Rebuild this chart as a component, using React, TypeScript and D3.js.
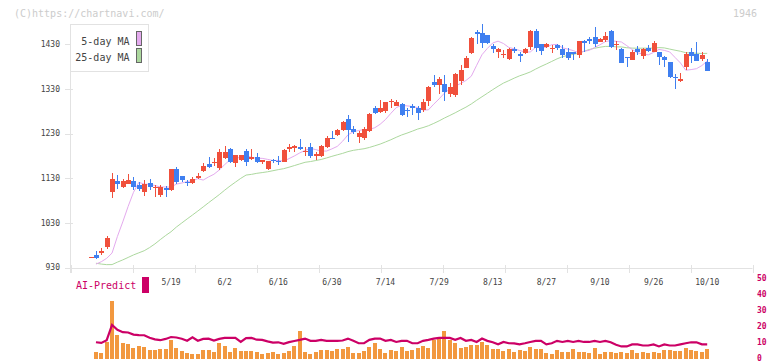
import React, { useEffect, useRef } from 'react';
import * as d3 from 'd3';

// sessions before the first candle (only feed the moving averages)
const closesBefore = [1000, 998, 995, 990, 993, 988, 985, 992, 989, 940, 905, 870, 880, 895, 888, 895, 900, 898, 905, 904, 925, 930, 938, 942];

const opens = [955, 958, 963, 977, 1100, 1124, 1111, 1118, 1124, 1115,
  1100, 1120, 1108, 1093, 1109, 1104, 1151, 1135, 1123, 1120,
  1130, 1147, 1163, 1165, 1154, 1175, 1196, 1164, 1171, 1191,
  1173, 1177, 1166, 1150, 1171, 1170, 1167, 1195, 1199, 1200,
  1188, 1200, 1179, 1179, 1200, 1221, 1227, 1238, 1263, 1240,
  1223, 1220, 1236, 1287, 1279, 1281, 1302, 1293, 1297, 1283,
  1292, 1287, 1283, 1303, 1346, 1339, 1341, 1318, 1317, 1349,
  1378, 1410, 1458, 1455, 1450, 1427, 1412, 1407, 1397, 1419,
  1408, 1410, 1425, 1460, 1432, 1425, 1420, 1428, 1420, 1414,
  1412, 1406, 1437, 1443, 1447, 1436, 1440, 1460, 1428, 1420,
  1401, 1395, 1419, 1404, 1421, 1414, 1413, 1402, 1390, 1357,
  1348, 1380, 1412, 1408, 1397, 1391];

const highs = [955, 967, 973, 1001, 1143, 1138, 1128, 1140, 1133, 1123,
  1126, 1128, 1115, 1115, 1113, 1152, 1155, 1136, 1126, 1134,
  1141, 1165, 1177, 1175, 1196, 1203, 1197, 1183, 1183, 1195,
  1196, 1186, 1172, 1170, 1173, 1180, 1196, 1207, 1205, 1218,
  1200, 1209, 1189, 1205, 1224, 1235, 1240, 1258, 1272, 1247,
  1236, 1244, 1276, 1292, 1305, 1302, 1307, 1305, 1298, 1288,
  1297, 1292, 1307, 1336, 1361, 1356, 1361, 1343, 1366, 1383,
  1405, 1447, 1462, 1476, 1452, 1432, 1423, 1417, 1423, 1425,
  1412, 1421, 1462, 1464, 1432, 1434, 1429, 1432, 1429, 1421,
  1414, 1438, 1440, 1447, 1468, 1444, 1458, 1462, 1437, 1421,
  1401, 1417, 1426, 1421, 1429, 1437, 1414, 1403, 1391, 1363,
  1365, 1412, 1423, 1436, 1412, 1397];

const lows = [955, 949, 958, 972, 1087, 1107, 1109, 1117, 1105, 1102,
  1091, 1104, 1089, 1089, 1089, 1102, 1117, 1121, 1114, 1117,
  1128, 1144, 1154, 1158, 1149, 1174, 1165, 1155, 1169, 1158,
  1172, 1164, 1163, 1148, 1165, 1160, 1167, 1190, 1188, 1194,
  1179, 1175, 1171, 1177, 1198, 1218, 1226, 1236, 1212, 1229,
  1210, 1216, 1234, 1274, 1277, 1277, 1288, 1291, 1270, 1267,
  1273, 1261, 1279, 1292, 1334, 1319, 1304, 1312, 1312, 1339,
  1377, 1408, 1432, 1423, 1430, 1410, 1400, 1399, 1395, 1410,
  1390, 1408, 1418, 1414, 1406, 1421, 1410, 1417, 1399, 1395,
  1395, 1399, 1414, 1432, 1425, 1435, 1436, 1423, 1417, 1388,
  1380, 1395, 1406, 1397, 1414, 1413, 1384, 1380, 1355, 1330,
  1346, 1373, 1388, 1392, 1393, 1370];

const closes = [955, 952, 968, 997, 1128, 1118, 1125, 1126, 1110, 1106,
  1117, 1111, 1110, 1110, 1104, 1151, 1123, 1126, 1119, 1128,
  1135, 1158, 1156, 1167, 1188, 1188, 1167, 1182, 1182, 1167,
  1177, 1166, 1171, 1169, 1168, 1169, 1194, 1201, 1203, 1196,
  1192, 1180, 1185, 1203, 1220, 1220, 1238, 1256, 1238, 1234,
  1231, 1240, 1274, 1277, 1287, 1300, 1304, 1300, 1271, 1280,
  1287, 1277, 1302, 1335, 1339, 1352, 1323, 1334, 1364, 1373,
  1400, 1445, 1453, 1434, 1434, 1420, 1419, 1409, 1419, 1415,
  1403, 1419, 1460, 1421, 1415, 1432, 1422, 1422, 1406, 1399,
  1408, 1437, 1434, 1437, 1430, 1443, 1449, 1425, 1430, 1389,
  1400, 1412, 1412, 1420, 1416, 1434, 1401, 1395, 1358, 1355,
  1352, 1408, 1405, 1393, 1406, 1371];

const volumes = [null, 4.2, 3.6, 10.4, 36, 14.8, 9.8, 9.2, 6.7, 7.9,
  7.3, 5.4, 5.4, 6.0, 6.0, 11.7, 6.7, 4.8, 3.6, 2.9,
  2.9, 5.4, 5.4, 4.2, 9.8, 7.9, 4.2, 6.7, 4.8, 4.8,
  4.8, 4.2, 2.9, 3.6, 4.2, 2.9, 3.6, 4.8, 7.9, 17.3,
  4.2, 2.9, 4.2, 5.4, 5.4, 4.8, 6.0, 6.0, 7.3, 3.6,
  3.6, 4.8, 7.3, 9.8, 6.0, 3.6, 5.4, 4.8, 7.3, 4.8,
  5.4, 6.7, 7.9, 6.7, 11.7, 13.5, 17.3, 11.7, 9.8, 6.7,
  7.3, 8.6, 8.6, 10.4, 8.6, 6.0, 6.0, 4.8, 6.0, 4.2,
  5.4, 4.8, 7.3, 6.0, 6.0, 3.6, 2.9, 5.4, 4.2, 4.2,
  6.0, 4.2, 4.2, 3.6, 6.7, 2.9, 4.2, 4.2, 3.6, 4.2,
  3.6, 5.4, 3.6, 4.2, 3.6, 4.2, 3.6, 5.4, 5.4, 4.8,
  4.8, 6.7, 5.4, 4.8, 4.2, 6.0];

const aiPredict = [null, 10.2, 9.8, 11.5, 21, 18, 16.5, 16.3, 15, 14.7,
  14.6, 13, 12, 11.5, 12.3, 13.5, 13.2, 12.4, 11.2, 13.3,
  11.2, 12.3, 12.5, 11.3, 12.3, 12.9, 12.9, 12.9, 10.4, 12.8,
  12.9, 11.8, 11.7, 10.8, 10, 10.2, 9.2, 10.3, 11, 11.7,
  12.5, 11.1, 11.1, 11.7, 11.1, 11.1, 11.1, 11.3, 12.5, 11.1,
  9.6, 9.6, 11.7, 12.5, 12.5, 11.1, 11.7, 10.4, 11.1, 11.1,
  9.6, 9.6, 11.1, 11.7, 12.5, 13, 12.9, 12.9, 11.7, 12.9,
  11.1, 11.7, 10.4, 12.5, 11.1, 10.2, 8.9, 10.4, 9.6, 9.5,
  8.9, 9.6, 10.4, 11.1, 11.1, 8.9, 9.6, 11.1, 10.4, 11.1,
  10.4, 11.1, 10.4, 10.4, 11.1, 10.4, 11.1, 10.2, 8.6, 7.6,
  7.6, 8.9, 8.9, 8.2, 8.2, 8.9, 7.6, 8.9, 8.2, 8.2,
  8.9, 9.6, 10.2, 10.2, 8.9, 8.9];

const dateLabels = ['5/19', '6/2', '6/16', '6/30', '7/14', '7/29', '8/13', '8/27', '9/10', '9/26', '10/10'];
const firstLabelIndex = 15;
const priceTicks = [930, 1030, 1130, 1230, 1330, 1430];
const volumeTicks = [0, 10, 20, 30, 40, 50];

const UP = '#f0503c';
const DOWN = '#3f7ff0';
const MA5 = '#e4aaee';
const MA25 = '#acd89e';
const AI = '#cc0066';
const font = '"DejaVu Sans Mono", monospace';

// chartnavi plots the average of the n sessions before each day
const movingAvg = (n: number) => {
  const all = [...closesBefore, ...closes];
  return closes.map((_, i) => {
    if (i === 0) return null;
    const end = closesBefore.length + i;
    return d3.mean(all.slice(end - n, end)) as number;
  });
};

const App = () => {
  const svgRef = useRef<SVGSVGElement>(null);

  useEffect(() => {
    const svg = d3.select(svgRef.current);
    svg.selectAll('*').remove();

    const x = d3.scaleLinear().domain([0, closes.length - 1]).range([90.6, 707.2]);
    const y = d3.scaleLinear().domain([930, 1430]).range([267.7, 44.4]);
    const yv = d3.scaleLinear().domain([0, 50]).range([358.6, 278.6]);
    const grid = d3.scaleLinear().domain([0, 11]).range([70.5, 752.5]);
    const px = (i: number) => Math.round(x(i));

    // header
    svg.append('text').attr('x', 14).attr('y', 13).attr('dominant-baseline', 'central')
      .attr('font-family', font).attr('font-size', 10).attr('fill', '#cccccc')
      .text('(C)https://chartnavi.com/');
    svg.append('text').attr('x', 757).attr('y', 13).attr('dominant-baseline', 'central')
      .attr('text-anchor', 'end').attr('font-family', font).attr('font-size', 10).attr('fill', '#cccccc')
      .text('1946');

    // axes
    svg.append('line').attr('x1', 70.5).attr('x2', 70.5).attr('y1', 24).attr('y2', 273)
      .attr('stroke', '#e2e2e2');
    svg.append('line').attr('x1', 70.5).attr('x2', 752.5).attr('y1', 268.5).attr('y2', 268.5)
      .attr('stroke', '#e2e2e2');
    svg.append('g').selectAll('line').data(d3.range(12)).enter().append('line')
      .attr('x1', d => Math.round(grid(d)) + 0.5).attr('x2', d => Math.round(grid(d)) + 0.5)
      .attr('y1', 265).attr('y2', 273).attr('stroke', '#e2e2e2');

    const yAxis = svg.append('g');
    yAxis.selectAll('line').data(priceTicks).enter().append('line')
      .attr('x1', 65).attr('x2', 73)
      .attr('y1', d => Math.round(y(d)) + 0.5).attr('y2', d => Math.round(y(d)) + 0.5)
      .attr('stroke', '#e2e2e2');
    yAxis.selectAll('text').data(priceTicks).enter().append('text')
      .attr('x', 60).attr('y', d => y(d)).attr('text-anchor', 'end').attr('dominant-baseline', 'central')
      .attr('font-family', font).attr('font-size', 8).attr('fill', '#444').text(d => d);

    svg.append('g').selectAll('text').data(dateLabels).enter().append('text')
      .attr('x', (_, k) => x(firstLabelIndex + k * 10)).attr('y', 282.5)
      .attr('text-anchor', 'middle').attr('dominant-baseline', 'central')
      .attr('font-family', font).attr('font-size', 8).attr('fill', '#444').text(d => d);

    // moving averages
    const maLine = d3.line<number | null>()
      .defined(d => d != null)
      .x((_, i) => x(i))
      .y(d => y(d as number));
    svg.append('path').datum(movingAvg(25)).attr('d', maLine)
      .attr('fill', 'none').attr('stroke', MA25).attr('stroke-width', 1);
    svg.append('path').datum(movingAvg(5)).attr('d', maLine)
      .attr('fill', 'none').attr('stroke', MA5).attr('stroke-width', 1);

    // candles
    const candles = svg.append('g').attr('shape-rendering', 'crispEdges');
    closes.forEach((c, i) => {
      const o = opens[i];
      const color = c >= o ? UP : DOWN;
      candles.append('line')
        .attr('x1', px(i) + 0.5).attr('x2', px(i) + 0.5)
        .attr('y1', y(highs[i])).attr('y2', y(lows[i]))
        .attr('stroke', color).attr('stroke-width', 1);
      const top = y(Math.max(o, c));
      candles.append('rect')
        .attr('x', px(i) - 2).attr('width', 5)
        .attr('y', top).attr('height', Math.max(1, y(Math.min(o, c)) - top))
        .attr('fill', color);
    });

    // legend
    svg.append('rect').attr('x', 70.5).attr('y', 24.5).attr('width', 78).attr('height', 47)
      .attr('fill', '#fff').attr('stroke', '#e2e2e2');
    [['5-day MA', MA5, 41.7, 31.5], ['25-day MA', MA25, 57, 48.5]].forEach(([label, col, ty, ry]) => {
      svg.append('text').attr('x', 129.5).attr('y', ty as number).attr('text-anchor', 'end')
        .attr('dominant-baseline', 'central').attr('font-family', font).attr('font-size', 10)
        .attr('fill', '#444').text(label as string);
      svg.append('rect').attr('x', 136.5).attr('y', ry as number).attr('width', 5).attr('height', 14)
        .attr('fill', col as string).attr('stroke', '#666');
    });

    // volume + AI predict
    svg.append('text').attr('x', 76).attr('y', 285.5).attr('dominant-baseline', 'central')
      .attr('font-family', font).attr('font-size', 10).attr('fill', AI).text('AI-Predict');
    svg.append('rect').attr('x', 142).attr('y', 277).attr('width', 7).attr('height', 16).attr('fill', AI);

    svg.append('g').attr('shape-rendering', 'crispEdges').selectAll('rect')
      .data(volumes.map((v, i) => ({ v, i })).filter(d => d.v != null))
      .enter().append('rect')
      .attr('x', d => px(d.i) - 2).attr('width', 4)
      .attr('y', d => yv(d.v as number)).attr('height', d => yv(0) - yv(d.v as number))
      .attr('fill', '#f2983f');

    const aiLine = d3.line<number | null>()
      .defined(d => d != null)
      .x((_, i) => x(i))
      .y(d => yv(d as number));
    svg.append('path').datum(aiPredict).attr('d', aiLine)
      .attr('fill', 'none').attr('stroke', AI).attr('stroke-width', 2.2);

    svg.append('g').selectAll('text').data(volumeTicks).enter().append('text')
      .attr('x', 757).attr('y', d => yv(d)).attr('dominant-baseline', 'central')
      .attr('font-family', font).attr('font-size', 8).attr('font-weight', 'bold')
      .attr('fill', AI).text(d => d);
  }, []);

  return (
    <svg ref={svgRef} width={772} height={361}
      style={{ position: 'absolute', left: 0, top: 0, background: '#fff' }} />
  );
};

export default App;
